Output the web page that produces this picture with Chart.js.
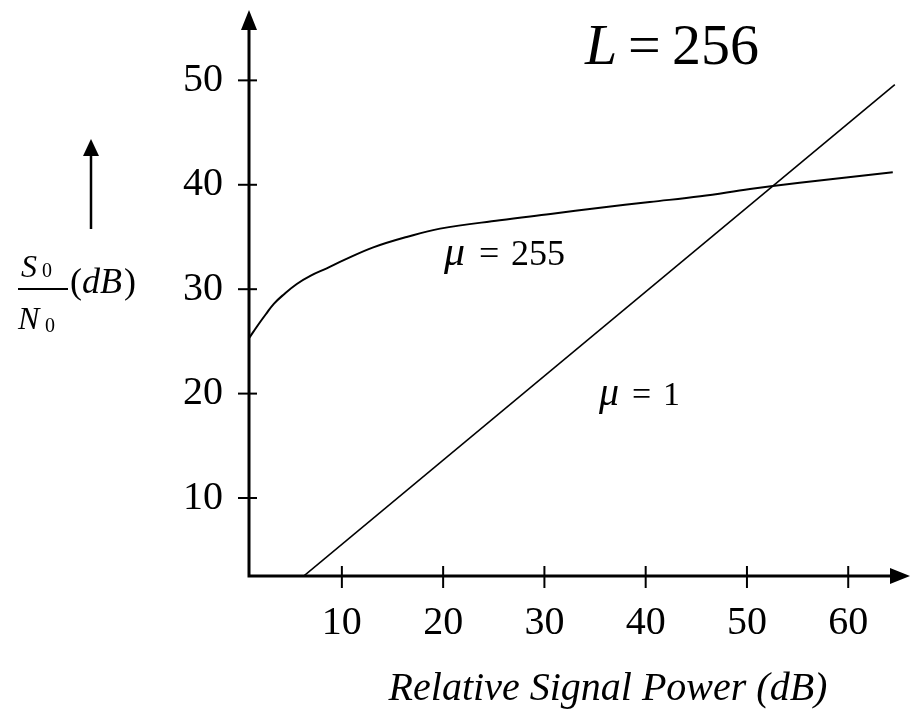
<!DOCTYPE html>
<html>
<head>
<meta charset="utf-8">
<style>
html,body{margin:0;padding:0;background:#fff;}
#wrap{width:913px;height:715px;position:relative;}
</style>
<script src="https://cdn.jsdelivr.net/npm/chart.js@4.4.0/dist/chart.umd.min.js"></script>
</head>
<body>
<div id="wrap"><canvas id="c" width="913" height="715"></canvas></div>
<script>
// ---- data ----
const xTicks = [10, 20, 30, 40, 50, 60];
const yTicks = [10, 20, 30, 40, 50];
const mu255X = [0.83, 1.67, 2.49, 3.28, 4.27, 5.55, 6.93, 8.51, 10.24, 13.1, 16.4, 19.7, 25.6, 30.6, 35.5, 40.4, 45.4, 50.3, 55.2, 64.4];
const mu255Y = [25.3, 26.5, 27.6, 28.6, 29.5, 30.5, 31.3, 32.0, 32.8, 34.0, 35.0, 35.8, 36.6, 37.2, 37.8, 38.35, 38.9, 39.6, 40.2, 41.2];
const mu1X = [6.2, 64.6];
const mu1Y = [2.5, 49.6];
const xTitle = 'Relative Signal Power (dB)';

const serif = 'Liberation Serif';

function pts(xs, ys){ return xs.map((x,i)=>({x:x, y:ys[i]})); }

function drawMixed(ctx, parts, y){
  parts.forEach(p=>{
    ctx.font = (p.italic ? 'italic ' : '') + p.size + 'px "' + serif + '"';
    ctx.fillText(p.t, p.x, p.y !== undefined ? p.y : y);
  });
}

const decor = {
  id: 'decor',
  beforeDatasetsDraw(chart){
    const ctx = chart.ctx, a = chart.chartArea;
    const xs = chart.scales.x, ys = chart.scales.y;
    ctx.save();
    ctx.strokeStyle = '#000'; ctx.fillStyle = '#000';
    // axes
    ctx.lineWidth = 3;
    ctx.beginPath();
    ctx.moveTo(a.left, a.top + 16); ctx.lineTo(a.left, a.bottom);
    ctx.lineTo(a.right - 16, a.bottom);
    ctx.stroke();
    // arrow heads
    ctx.beginPath();
    ctx.moveTo(a.left, a.top); ctx.lineTo(a.left - 8, a.top + 20); ctx.lineTo(a.left + 8, a.top + 20); ctx.closePath(); ctx.fill();
    ctx.beginPath();
    ctx.moveTo(a.right, a.bottom); ctx.lineTo(a.right - 20, a.bottom - 8); ctx.lineTo(a.right - 20, a.bottom + 8); ctx.closePath(); ctx.fill();
    // tick marks crossing the axes
    ctx.lineWidth = 2;
    ys.ticks.forEach(t=>{
      const py = ys.getPixelForValue(t.value);
      ctx.beginPath(); ctx.moveTo(a.left - 11, py); ctx.lineTo(a.left + 8, py); ctx.stroke();
    });
    xs.ticks.forEach(t=>{
      const px = xs.getPixelForValue(t.value);
      ctx.beginPath(); ctx.moveTo(px, a.bottom - 10); ctx.lineTo(px, a.bottom + 12); ctx.stroke();
    });
    ctx.restore();
  },
  afterDraw(chart){
    const ctx = chart.ctx;
    ctx.save();
    ctx.fillStyle = '#000'; ctx.strokeStyle = '#000';
    ctx.textBaseline = 'alphabetic'; ctx.textAlign = 'left';
    // L = 256
    drawMixed(ctx, [
      {t:'L', x:585, size:58, italic:true},
      {t:'=', x:628, size:58},
      {t:'256', x:672, size:58}
    ], 64);
    // mu = 255
    drawMixed(ctx, [
      {t:'\u03BC', x:444, size:42, italic:true},
      {t:'=', x:479, size:36},
      {t:'255', x:511, size:36}
    ], 265);
    // mu = 1
    drawMixed(ctx, [
      {t:'\u03BC', x:599, size:40, italic:true},
      {t:'=', x:632, size:34},
      {t:'1', x:663, size:34}
    ], 405);
    // y-axis label: arrow + S0/N0 (dB)
    ctx.lineWidth = 2.5;
    ctx.beginPath(); ctx.moveTo(91, 229); ctx.lineTo(91, 152); ctx.stroke();
    ctx.beginPath(); ctx.moveTo(91, 139); ctx.lineTo(83, 156); ctx.lineTo(99, 156); ctx.closePath(); ctx.fill();
    drawMixed(ctx, [
      {t:'S', x:21, y:277, size:32, italic:true},
      {t:'0', x:42, y:277, size:20},
      {t:'N', x:18, y:329, size:32, italic:true},
      {t:'0', x:45, y:332, size:20},
      {t:'(', x:70, y:293, size:36},
      {t:'dB', x:82, y:293, size:36, italic:true},
      {t:')', x:124, y:293, size:36}
    ], 0);
    ctx.lineWidth = 2;
    ctx.beginPath(); ctx.moveTo(18, 289); ctx.lineTo(68, 289); ctx.stroke();
    // x-axis title
    ctx.font = 'italic 40px "' + serif + '"';
    ctx.textAlign = 'center';
    ctx.fillText(xTitle, 608, 700);
    ctx.restore();
  }
};

new Chart(document.getElementById('c'), {
  type: 'line',
  data: {
    datasets: [
      {label:'\u03BC = 255', data: pts(mu255X, mu255Y), borderColor:'#000', borderWidth:2, pointRadius:0, tension:0.4, fill:false},
      {label:'\u03BC = 1', data: pts(mu1X, mu1Y), borderColor:'#000', borderWidth:1.6, pointRadius:0, fill:false}
    ]
  },
  options: {
    responsive: false,
    animation: false,
    events: [],
    layout: {padding: {left:0, top:10, right:3, bottom:0}},
    plugins: {legend:{display:false}, tooltip:{enabled:false}, title:{display:false}},
    scales: {
      x: {
        type: 'linear', min: 0.83, max: 66.1,
        grid: {display:false}, border: {display:false},
        ticks: {color:'#000', font:{family:serif, size:40}, padding:15, autoSkip:false, maxRotation:0},
        afterBuildTicks: s => { s.ticks = xTicks.map(v=>({value:v})); },
        afterFit: s => { s.height = 139; s.paddingLeft = 0; s.paddingRight = 0; s.paddingTop = 0; s.paddingBottom = 0; }
      },
      y: {
        type: 'linear', min: 2.53, max: 56.74,
        grid: {display:false}, border: {display:false},
        ticks: {color:'#000', font:{family:serif, size:40}, padding:18, autoSkip:false},
        afterBuildTicks: s => { s.ticks = yTicks.map(v=>({value:v})); },
        afterFit: s => { s.width = 249; s.paddingLeft = 0; s.paddingRight = 0; s.paddingTop = 0; s.paddingBottom = 0; }
      }
    }
  },
  plugins: [decor]
});
</script>
</body>
</html>
